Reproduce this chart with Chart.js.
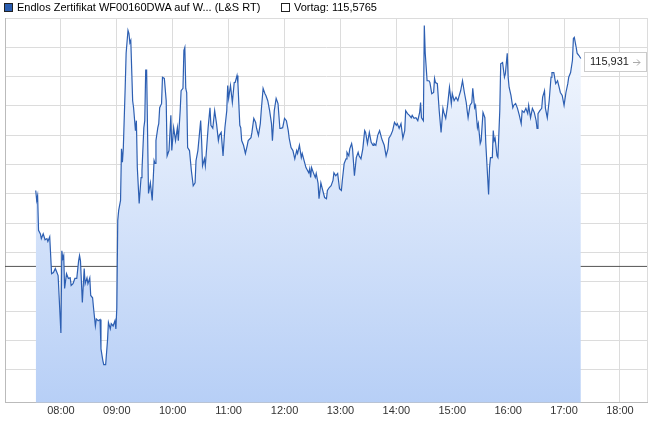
<!DOCTYPE html>
<html>
<head>
<meta charset="utf-8">
<script src="https://cdn.jsdelivr.net/npm/chart.js@4"></script>
<style>
  body { margin: 0; background: #fff; font-family: "Liberation Sans", Arial, sans-serif; }
  #wrap { position: relative; width: 649px; height: 422px; }
  #legend { position: absolute; left: 0; top: 0; height: 16px; font-size: 11px; color: #000; }
  .item { position: absolute; top: 1px; white-space: nowrap; line-height: 13px; }
  .box { display: inline-block; width: 7px; height: 7px; border: 1px solid #222; vertical-align: -1px; margin-right: 4px; }
</style>
</head>
<body>
<div id="wrap">
  <canvas id="chart" width="649" height="422"></canvas>
  <div id="legend"></div>
</div>
<script>
const SERIES_NAME = 'Endlos Zertifikat WF00160DWA auf W... (L&S RT)'
const VORTAG = 115.5765
const HOURS = [7, 8, 9, 10, 11, 12, 13, 14, 15, 16, 17, 18]

// minutes since midnight
const times = [
  453,454,455,456,458,459,461,463,465,466,468,470,472,474,475,477,480,481,482,483,
  484,486,488,490,491,493,495,497,499,500,501,503,505,506,508,509,511,512,514,515,
  517,518,520,522,523,525,526,528,530,531,533,534,536,538,539,540,541,542,544,545,
  546,547,549,550,552,553,554,555,557,558,560,561,562,564,566,567,569,570,571,572,
  574,576,578,580,581,582,584,585,586,588,589,591,593,594,596,598,599,601,603,605,
  606,608,609,611,612,613,614,615,616,618,620,622,624,625,627,630,631,632,634,635,
  638,640,641,643,645,647,649,650,652,654,656,658,659,660,662,664,666,667,669,670,
  672,673,674,676,678,680,681,684,685,687,689,690,692,694,695,697,699,700,702,704,
  706,707,709,711,713,715,716,718,720,722,724,725,727,729,731,733,734,736,738,739,
  741,743,746,747,748,749,751,753,754,756,757,759,761,763,765,766,768,770,772,773,
  775,777,779,781,782,784,786,787,789,790,792,793,795,797,799,800,802,804,806,807,
  809,811,813,815,816,818,820,822,824,825,827,829,831,832,834,836,838,840,841,843,
  845,847,849,850,852,854,856,857,859,861,863,865,866,867,869,870,871,873,875,876,
  878,880,881,882,884,886,888,890,891,893,895,897,899,900,902,904,906,907,909,911,
  913,915,916,917,919,921,922,924,925,927,928,930,931,933,935,936,938,939,940,941,
  943,944,945,946,948,949,951,952,954,956,957,959,960,961,963,965,966,968,970,972,
  974,975,977,979,981,982,984,986,988,990,991,992,994,996,997,999,1000,1002,1004,1006,
  1007,1009,1011,1013,1015,1016,1018,1020,1022,1024,1025,1027,1029,1030,1031,1033,1034,1036,1038
]

const prices = [
  115.706,115.689,115.697,115.638,115.632,115.624,115.632,115.622,115.624,115.619,115.627,115.564,115.566,115.573,115.569,115.561,115.463,115.603,115.590,115.595,
  115.539,115.564,115.556,115.557,115.544,115.547,115.556,115.556,115.586,115.595,115.586,115.515,115.573,115.547,115.557,115.547,115.557,115.527,115.523,115.506,
  115.475,115.487,115.484,115.486,115.436,115.416,115.409,115.409,115.450,115.481,115.470,115.479,115.475,115.484,115.470,115.506,115.655,115.672,115.689,115.777,
  115.754,115.779,115.882,115.940,115.979,115.974,115.958,115.962,115.859,115.847,115.808,115.825,115.745,115.684,115.728,115.740,115.813,115.825,115.911,115.911,
  115.701,115.719,115.689,115.757,115.752,115.791,115.813,115.820,115.847,115.854,115.899,115.897,115.859,115.765,115.774,115.834,115.774,115.813,115.791,115.813,
  115.791,115.842,115.876,115.880,115.945,115.950,115.880,115.873,115.779,115.774,115.740,115.714,115.719,115.757,115.774,115.825,115.791,115.748,115.760,115.748,
  115.813,115.847,115.817,115.812,115.842,115.820,115.791,115.800,115.805,115.765,115.813,115.842,115.885,115.863,115.885,115.856,115.890,115.890,115.902,115.888,
  115.817,115.813,115.791,115.783,115.769,115.783,115.791,115.796,115.805,115.829,115.822,115.812,115.800,115.820,115.842,115.880,115.871,115.868,115.859,115.842,
  115.820,115.791,115.842,115.863,115.854,115.812,115.812,115.813,115.829,115.825,115.808,115.795,115.779,115.774,115.760,115.774,115.769,115.783,115.762,115.769,
  115.757,115.745,115.736,115.743,115.728,115.745,115.736,115.728,115.735,115.718,115.692,115.719,115.706,115.694,115.692,115.706,115.711,115.714,115.723,115.736,
  115.731,115.735,115.709,115.706,115.723,115.752,115.760,115.771,115.765,115.777,115.786,115.777,115.731,115.762,115.771,115.765,115.760,115.777,115.808,115.805,
  115.786,115.805,115.788,115.783,115.786,115.783,115.800,115.808,115.796,115.791,115.783,115.765,115.777,115.795,115.800,115.808,115.822,115.817,115.820,115.812,
  115.820,115.795,115.808,115.842,115.837,115.834,115.830,115.834,115.829,115.830,115.825,115.839,115.856,115.830,115.825,115.987,115.940,115.893,115.893,115.890,
  115.871,115.873,115.897,115.890,115.888,115.842,115.805,115.846,115.839,115.829,115.851,115.882,115.854,115.871,115.859,115.865,115.859,115.865,115.876,115.893,
  115.873,115.856,115.842,115.830,115.851,115.856,115.880,115.847,115.851,115.813,115.820,115.786,115.791,115.839,115.830,115.786,115.728,115.699,115.745,115.762,
  115.762,115.808,115.791,115.795,115.765,115.762,115.842,115.922,115.924,115.899,115.905,115.940,115.899,115.882,115.868,115.847,115.851,115.854,115.846,115.834,
  115.820,115.842,115.839,115.846,115.837,115.851,115.830,115.846,115.839,115.825,115.812,115.837,115.842,115.846,115.865,115.876,115.846,115.830,115.859,115.899,
  115.907,115.907,115.888,115.893,115.880,115.873,115.868,115.851,115.873,115.888,115.899,115.907,115.928,115.965,115.967,115.950,115.940,115.936,115.931
]

const X_MIN = 420
const X_MAX = 1109

const fmtNum = (v, d) => v.toFixed(d).replace('.', ',')
const fmtTime = (m) => String(Math.floor(m / 60)).padStart(2, '0') + ':' + String(m % 60).padStart(2, '0')

// legend in html
document.getElementById('legend').innerHTML =
  `<div class="item" style="left:4px"><span class="box" style="background:#2a5db0"></span>${SERIES_NAME.replace('&', '&amp;')}</div>` +
  `<div class="item" style="left:281px"><span class="box" style="background:#fff"></span>Vortag: ${fmtNum(VORTAG, 4)}</div>`

const points = times.map((t, i) => ({x: t, y: prices[i]}))

const lastLabel = {
  id: 'lastLabel',
  afterDatasetsDraw(chart) {
    const ctx = chart.ctx
    const last = prices[prices.length - 1]
    const y = Math.round(chart.scales.y.getPixelForValue(last)) + 3
    const x = Math.round(chart.scales.x.getPixelForValue(times[times.length - 1])) + 3
    ctx.save()
    ctx.fillStyle = '#fff'
    ctx.strokeStyle = '#ccc'
    ctx.lineWidth = 1
    ctx.fillRect(x, y - 9, 62, 19)
    ctx.strokeRect(x + 0.5, y - 8.5, 62, 19)
    ctx.fillStyle = '#222'
    ctx.font = '11px "Liberation Sans", Arial, sans-serif'
    ctx.textBaseline = 'middle'
    ctx.fillText(fmtNum(last, 3), x + 6, y + 1)
    // small arrow
    ctx.strokeStyle = '#aaa'
    ctx.beginPath()
    ctx.moveTo(x + 49, y + 1.5)
    ctx.lineTo(x + 56, y + 1.5)
    ctx.moveTo(x + 53, y - 1.5)
    ctx.lineTo(x + 56, y + 1.5)
    ctx.lineTo(x + 53, y + 4.5)
    ctx.stroke()
    ctx.restore()
  }
}

new Chart('chart', {
  type: 'line',
  data: {
    datasets: [{
      label: SERIES_NAME,
      data: points,
      borderColor: '#2d5fb2',
      borderWidth: 1.2,
      pointRadius: 0,
      tension: 0,
      fill: 'start',
      backgroundColor: (context) => {
        const area = context.chart.chartArea
        if (!area) return 'rgba(0,0,0,0)'
        const g = context.chart.ctx.createLinearGradient(0, area.top, 0, area.bottom)
        g.addColorStop(0, '#f6f9fe')
        g.addColorStop(1, '#b7cff6')
        return g
      }
    }, {
      label: 'Vortag',
      data: [{x: X_MIN, y: VORTAG}, {x: X_MAX, y: VORTAG}],
      borderColor: '#555',
      borderWidth: 1,
      pointRadius: 0,
      fill: false
    }]
  },
  options: {
    responsive: false,
    animation: false,
    layout: {padding: {left: 5, right: 1, top: 18, bottom: 2}},
    plugins: {
      legend: {display: false},
      tooltip: {enabled: false}
    },
    scales: {
      x: {
        type: 'linear',
        min: X_MIN,
        max: X_MAX,
        afterBuildTicks: (axis) => {
          axis.ticks = HOURS.map(h => ({value: h * 60})).concat([{value: X_MAX}])
        },
        ticks: {
          autoSkip: false,
          maxRotation: 0,
          padding: 2,
          color: '#333',
          font: {family: '"Liberation Sans", Arial, sans-serif', size: 11},
          callback: (v) => (v === X_MIN || v === X_MAX) ? '' : fmtTime(v)
        },
        grid: {color: '#dcdcdc', drawTicks: false},
        border: {color: '#bbb'}
      },
      y: {
        min: 115.344,
        max: 116.0,
        ticks: {display: false, stepSize: 0.05},
        grid: {color: '#dcdcdc', drawTicks: false},
        border: {color: '#bbb'}
      }
    }
  },
  plugins: [lastLabel]
})
</script>
</body>
</html>
